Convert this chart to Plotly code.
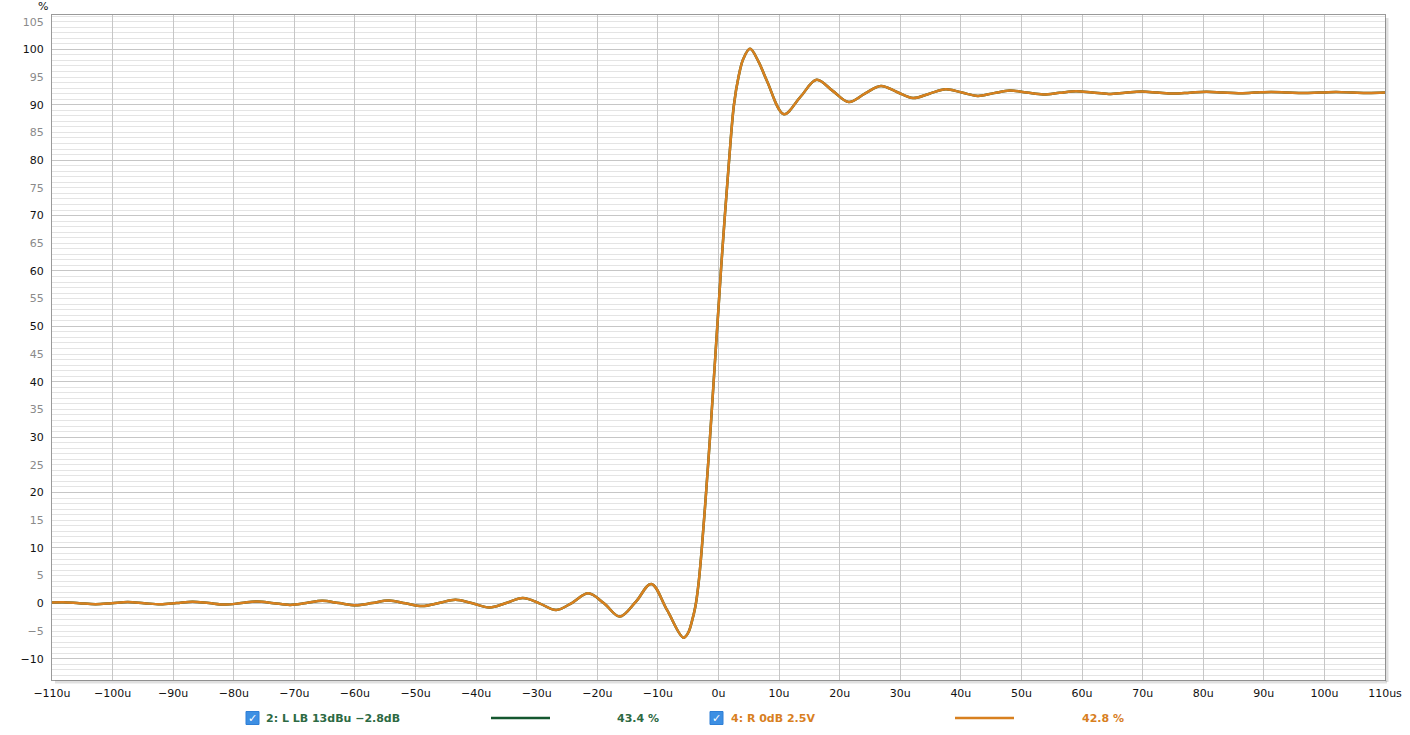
import plotly.graph_objects as go

# ---------------- data ----------------
time_us = [
    -110, -108.2, -105.5, -102.8, -100.15, -97.5, -94.8, -92.1, -89.45, -86.8,
    -84.1, -81.4, -78.75, -76.1, -73.4, -70.7, -68.05, -65.4, -62.65, -59.9,
    -57.15, -54.4, -51.65, -48.9, -46.15, -43.4, -40.6, -37.8, -35.05, -32.3,
    -29.55, -26.8, -24.15, -21.5, -18.9, -16.3, -13.7, -11.1, -8.5, -5.8,
    -5.0, -4.4, -3.8, -3.3, -2.75, -2.05, -1.4, -0.8, -0.2, 0.4,
    1.05, 1.75, 2.55, 3.3, 4.1, 5.2, 6.6, 8.0, 10.8, 13.5,
    16.2, 18.85, 21.5, 24.15, 26.8, 29.45, 32.1, 34.8, 37.5, 40.15,
    42.8, 45.45, 48.1, 50.85, 53.6, 56.3, 59.0, 61.7, 64.4, 67.1,
    69.8, 72.45, 75.1, 77.8, 80.5, 83.15, 85.8, 88.5, 91.2, 93.85,
    96.5, 99.2, 101.9, 104.55, 107.2, 110,
]
r_values = [
    0.15, 0.2, 0.02, -0.15, 0.03, 0.25, 0.03, -0.18, 0.04, 0.3,
    0.04, -0.22, 0.05, 0.35, 0.03, -0.28, 0.05, 0.45, 0.05, -0.35,
    0.05, 0.5, 0.0, -0.5, 0.05, 0.65, 0.0, -0.75, 0.05, 0.95,
    0.0, -1.2, 0.1, 1.8, 0.0, -2.4, 0.2, 3.5, -1.2, -6.2,
    -5.3, -3.3, -0.5, 3.5, 10.0, 20.0, 30.0, 40.0, 50.0, 60.0,
    70.0, 80.0, 90.0, 95.0, 98.3, 100.1, 97.8, 94.3, 88.3, 91.4,
    94.5, 92.5, 90.5, 92.0, 93.4, 92.3, 91.2, 92.0, 92.8, 92.2,
    91.6, 92.1, 92.55, 92.2, 91.85, 92.15, 92.45, 92.2, 91.95, 92.17,
    92.38, 92.2, 92.02, 92.18, 92.33, 92.2, 92.07, 92.19, 92.3, 92.2,
    92.1, 92.19, 92.28, 92.2, 92.12, 92.2,
]
# Left channel overlaps the right channel almost exactly
l_values = list(r_values)

series_names = ["2: L LB 13dBu \u22122.8dB", "4: R 0dB 2.5V"]
series_readouts = ["43.4 %", "42.8 %"]
series_colors = ["#14572f", "#d8801f"]
text_colors = ["#2d6a43", "#d8801f"]

x_ticks = list(range(-110, 111, 10))
x_ticklabels = [("\u2212" + str(-v) + "u") if v < 0 else (str(v) + "u") for v in x_ticks]
x_ticklabels[-1] = "110us"
y_ticks = list(range(-10, 106, 5))

# ---------------- layout geometry (page pixels) ----------------
W, H = 1410, 735
L, R, T, B = 52, 1385, 15, 680
PW, PH = R - L, B - T


def px(xp):
    return (xp - L) / PW


def py(yp):
    return (B - yp) / PH


FONT = "DejaVu Sans"

fig = go.Figure()
fig.add_trace(go.Scatter(x=time_us, y=l_values, mode="lines", name=series_names[0],
                         line=dict(color=series_colors[0], width=2.5, shape="spline", smoothing=1.0),
                         showlegend=False))
fig.add_trace(go.Scatter(x=time_us, y=r_values, mode="lines", name=series_names[1],
                         line=dict(color=series_colors[1], width=2.5, shape="spline", smoothing=1.0),
                         showlegend=False))
# invisible trace to carry the major grid axis
fig.add_trace(go.Scatter(x=[time_us[0]], y=[r_values[0]], yaxis="y2", mode="markers",
                         marker=dict(opacity=0), showlegend=False, hoverinfo="skip"))

y_text = []
for v in y_ticks:
    lab = ("\u2212" + str(-v)) if v < 0 else str(v)
    if v % 10 == 0:
        y_text.append('<span style="color:#111111">' + lab + '</span>')
    else:
        y_text.append('<span style="color:#8a8a8a">' + lab + '</span>')

y_range = [-13.84, 106.2]

fig.update_layout(
    width=W, height=H,
    margin=dict(l=L, r=W - R, t=T, b=H - B, autoexpand=False),
    paper_bgcolor="white", plot_bgcolor="white",
    font=dict(family=FONT, size=11, color="#111111"),
    xaxis=dict(range=[-110, 110], tickvals=x_ticks, ticktext=x_ticklabels,
               showgrid=True, gridcolor="#c6c6c6", gridwidth=1, zeroline=False,
               showline=True, linecolor="#9a9a9a", linewidth=1, mirror=True,
               ticks="", ticklabelstandoff=3, tickfont=dict(size=11, color="#111111")),
    yaxis=dict(range=y_range, tickvals=y_ticks, ticktext=y_text,
               showgrid=False, zeroline=False,
               minor=dict(dtick=1, tick0=0, showgrid=True, gridcolor="#e4e4e4", gridwidth=1),
               showline=True, linecolor="#9a9a9a", linewidth=1, mirror=True,
               ticks="", ticklabelstandoff=5, tickfont=dict(size=11)),
    yaxis2=dict(range=y_range, overlaying="y", side="left", dtick=10, tick0=0,
                showgrid=True, gridcolor="#c6c6c6", gridwidth=1, zeroline=False,
                showticklabels=False, showline=False),
    hovermode=False,
)

shapes = []
annotations = []

# drop shadow along right and bottom edges of the plot frame
shapes.append(dict(type="line", xref="paper", yref="paper", x0=px(R + 2), x1=px(R + 2),
                   y0=py(T + 3), y1=py(B + 2), line=dict(color="rgba(0,0,0,0.12)", width=3)))
shapes.append(dict(type="line", xref="paper", yref="paper", x0=px(L + 3), x1=px(R + 2),
                   y0=py(B + 2), y1=py(B + 2), line=dict(color="rgba(0,0,0,0.12)", width=3)))

# unit label
annotations.append(dict(text="%", xref="paper", yref="paper", x=px(43), y=py(6.5),
                        showarrow=False, xanchor="center", yanchor="middle",
                        font=dict(size=11, color="#111111")))

# custom legend row
row_y = 718
legend_pos = [
    dict(box=246, text=264, line=(491, 550), val=637.5),
    dict(box=710, text=729, line=(955, 1014), val=1102.5),
]
for i, pos in enumerate(legend_pos):
    shapes.append(dict(type="rect", xref="paper", yref="paper",
                       x0=px(pos["box"]), x1=px(pos["box"] + 13),
                       y0=py(row_y - 6.5), y1=py(row_y + 6.5),
                       fillcolor="#3d8fe3", line=dict(color="#2f7fd6", width=1)))
    annotations.append(dict(text="\u2713", xref="paper", yref="paper",
                            x=px(pos["box"] + 6.5), y=py(row_y), showarrow=False,
                            xanchor="center", yanchor="middle",
                            font=dict(size=11, color="white", family=FONT)))
    annotations.append(dict(text="<b>" + series_names[i] + "</b>", xref="paper", yref="paper",
                            x=px(pos["text"]), y=py(row_y), showarrow=False,
                            xanchor="left", yanchor="middle",
                            font=dict(size=11, color=text_colors[i], family=FONT)))
    shapes.append(dict(type="line", xref="paper", yref="paper",
                       x0=px(pos["line"][0]), x1=px(pos["line"][1]),
                       y0=py(row_y), y1=py(row_y),
                       line=dict(color=series_colors[i], width=2.5)))
    annotations.append(dict(text="<b>" + series_readouts[i] + "</b>", xref="paper", yref="paper",
                            x=px(pos["val"]), y=py(row_y), showarrow=False,
                            xanchor="center", yanchor="middle",
                            font=dict(size=11, color=text_colors[i], family=FONT)))

fig.update_layout(shapes=shapes, annotations=annotations)

# remove the default 8px page margin so the figure fills the window exactly
fig.write_html("out.html",
               config={"displayModeBar": False, "staticPlot": True},
               post_script="document.body.style.margin='0';document.body.style.overflow='hidden';")
